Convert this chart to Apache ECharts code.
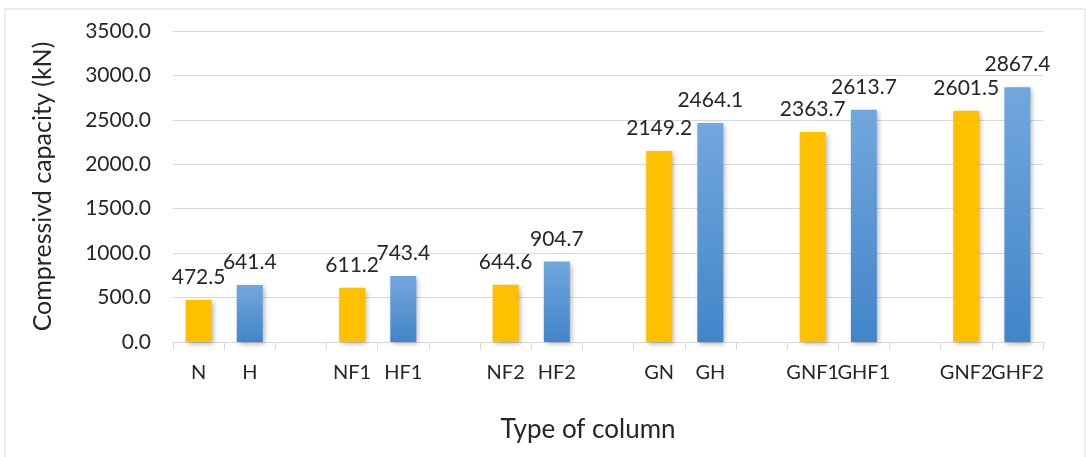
<!DOCTYPE html>
<html>
<head>
<meta charset="utf-8">
<script src="https://cdn.jsdelivr.net/npm/echarts@6/dist/echarts.min.js"></script>
<style>
  html, body { margin: 0; padding: 0; background: #fff; }
  #chart { width: 1086px; height: 457px; }
</style>
</head>
<body>
<div id="chart"></div>
<script>
// column types, paired (normal / high strength); '' = spacer slot between pairs
const categories = ["N", "H", "", "NF1", "HF1", "", "NF2", "HF2", "", "GN", "GH", "", "GNF1", "GHF1", "", "GNF2", "GHF2"];
const yellowValues = [472.5, 611.2, 644.6, 2149.2, 2363.7, 2601.5];
const blueValues = [641.4, 743.4, 904.7, 2464.1, 2613.7, 2867.4];
const yTicks = [0, 500, 1000, 1500, 2000, 2500, 3000, 3500];

// put each value on its own slot: every pair takes 3 slots
const yellowSlots = categories.map(() => null);
const blueSlots = categories.map(() => null);
yellowValues.forEach((v, i) => { yellowSlots[i * 3] = v; });
blueValues.forEach((v, i) => { blueSlots[i * 3 + 1] = v; });

const font = "Lato, 'Open Sans', sans-serif";
const chart = echarts.init(document.getElementById("chart"), null, { renderer: "canvas" });

const barLabel = {
  show: true,
  position: "top",
  distance: 12,
  fontFamily: font,
  fontSize: 21,
  color: "#262626",
  formatter: (p) => p.value.toFixed(1),
};

chart.setOption({
  animation: false,
  backgroundColor: "#fff",
  textStyle: { fontFamily: font },
  graphic: [{
    type: "rect",
    shape: { x: 5, y: 9, width: 1080, height: 460 },
    style: { fill: "none", stroke: "#d9d9d9", lineWidth: 1 },
    silent: true,
  }],
  grid: { left: 173, right: 43, top: 31, bottom: 115 },
  xAxis: {
    type: "category",
    data: categories,
    name: "Type of column",
    nameLocation: "middle",
    nameGap: 75,
    nameTextStyle: { fontSize: 26, color: "#262626", fontFamily: font, padding: [0, 40, 0, 0] },
    axisLine: { lineStyle: { color: "#d9d9d9", width: 1 } },
    axisTick: { show: true, interval: 0, length: 8, lineStyle: { color: "#d9d9d9" } },
    axisLabel: { interval: 0, fontSize: 20, color: "#262626", margin: 21 },
  },
  yAxis: {
    type: "value",
    min: yTicks[0],
    max: yTicks[yTicks.length - 1],
    interval: 500,
    name: "Compressivd capacity (kN)",
    nameLocation: "middle",
    nameRotate: 90,
    nameGap: 118,
    nameTextStyle: { fontSize: 25, color: "#262626", fontFamily: font },
    axisLine: { show: false },
    axisTick: { show: false },
    axisLabel: { fontSize: 21, color: "#262626", margin: 22, formatter: (v) => v.toFixed(1) },
    splitLine: { lineStyle: { color: "#d9d9d9", width: 1 } },
  },
  series: [
    {
      name: "normal",
      type: "bar",
      data: yellowSlots,
      barWidth: 26,
      barGap: "-100%",
      itemStyle: {
        color: "#ffc000",
        shadowBlur: 5,
        shadowColor: "rgba(0,0,0,0.3)",
        shadowOffsetX: 2,
        shadowOffsetY: 2,
      },
      label: barLabel,
    },
    {
      name: "high",
      type: "bar",
      data: blueSlots,
      barWidth: 26,
      barGap: "-100%",
      itemStyle: {
        color: new echarts.graphic.LinearGradient(0, 0, 0, 1, [
          { offset: 0, color: "#72a7dd" },
          { offset: 1, color: "#4285c9" },
        ]),
        shadowBlur: 5,
        shadowColor: "rgba(0,0,0,0.3)",
        shadowOffsetX: 2,
        shadowOffsetY: 2,
      },
      label: barLabel,
    },
  ],
});
</script>
</body>
</html>
